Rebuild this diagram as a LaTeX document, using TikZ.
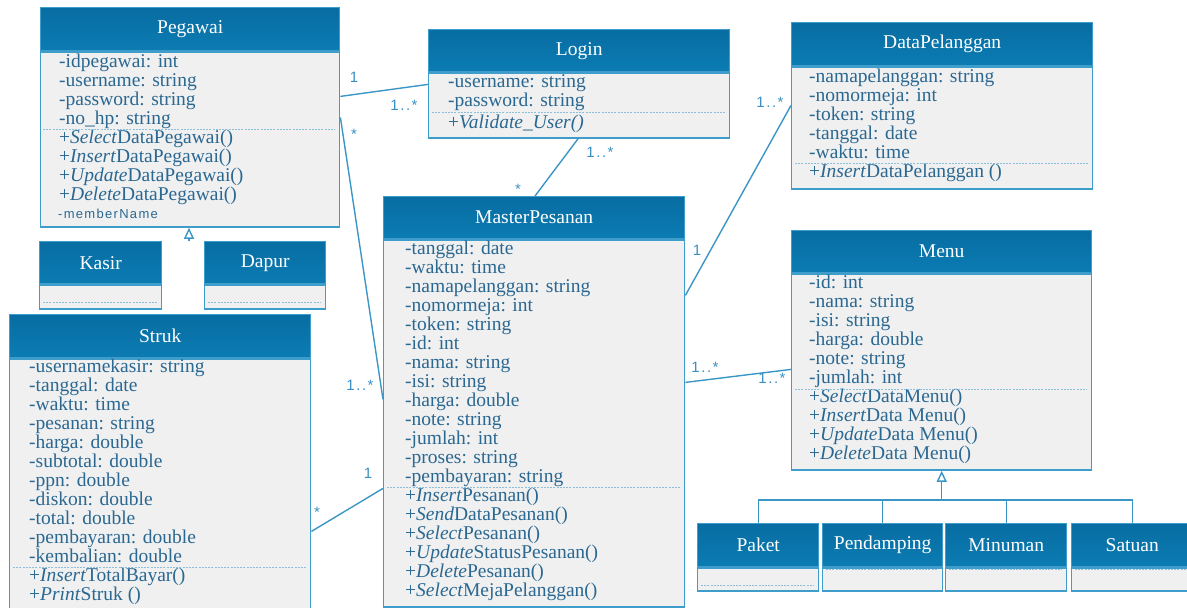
\documentclass[tikz,border=0pt]{standalone}
\usepackage{fontspec}
\setmainfont{Liberation Serif}
\newfontfamily\multfont{Liberation Sans}[LetterSpace=10]
\newfontfamily\tinysans{Liberation Sans}[LetterSpace=10]
\usetikzlibrary{arrows.meta,calc}

\definecolor{hdrtop}{HTML}{086DA2}
\definecolor{hdrbot}{HTML}{0B7CB3}
\definecolor{boxline}{HTML}{3F9DCC}
\definecolor{bodyfill}{HTML}{F0F0F0}
\definecolor{memtext}{HTML}{2A6892}
\definecolor{sepcol}{HTML}{8DBEDB}
\definecolor{conncol}{HTML}{3B96C6}
\definecolor{labcol}{HTML}{3A8FC2}

\tikzset{
  hdr/.style={draw=boxline, line width=1.4pt, top color=hdrtop, bottom color=hdrbot,
    text=white, font=\fontsize{19.5}{19}\selectfont, inner sep=0pt, anchor=north west},
  bodybox/.style={draw=boxline, line width=1.4pt, fill=bodyfill, inner sep=0pt, anchor=north west},
  mem/.style={text=memtext, font=\fontsize{19.5}{19}\selectfont, inner sep=0pt, anchor=base west},
  sep/.style={draw=sepcol, line width=0.8pt, dash pattern=on 2pt off 1.2pt},
  conn/.style={draw=conncol, line width=1.4pt},
  inh/.style={conn, -{Triangle[open, width=10pt, length=11pt, line width=1.4pt]}},
  mult/.style={text=labcol, font=\multfont\fontsize{15}{15}\selectfont, inner sep=0pt},
}

% class box: header node <name>-h and body node <name>
% #1 name, #2 x, #3 y, #4 width, #5 header height, #6 body height, #7 title
\newcommand\umlclass[7]{%
  \node[hdr, minimum width=#4pt, minimum height=#5pt] (#1-h) at (#2,#3) {#7};
  \node[bodybox, minimum width=#4pt, minimum height=#6pt] (#1) at (#1-h.south west) {};
}
% member lines: #1 prefix, #2 x, #3 first baseline, #4 list of lines
\newcommand\members[4]{%
  \foreach \t [count=\i] in {#4}{%
    \node[mem] (#1-m\i) at (#2,{#3+19*(\i-1)}) {\t};}%
}

\begin{document}
\begin{tikzpicture}[x=1pt,y=-1pt]
\useasboundingbox (0,0) rectangle (1187,608);

% ---------- classes ----------
\umlclass{peg}{40}{7}{299}{43}{175}{Pegawai}
\members{peg}{59}{67}{-idpegawai: int,-username: string,-password: string,-no\_hp: string,
  +\textit{Select}DataPegawai(),+\textit{Insert}DataPegawai(),+\textit{Update}DataPegawai(),+\textit{Delete}DataPegawai()}
\node[text=memtext, font=\tinysans\fontsize{13}{13}\selectfont, inner sep=0pt, anchor=base west] (peg-mn) at (58,218) {-memberName};
\draw[sep] (43,129) -- (335,129);

\umlclass{login}{428}{29}{301}{42}{65}{Login}
\members{login}{448}{87}{-username: string,-password: string}
\node[mem] (login-op) at (448,128) {+\textit{Validate\_User()}};
\draw[sep] (432,112) -- (725,112);

\umlclass{dp}{791}{22}{301}{43}{122}{DataPelanggan}
\members{dp}{809}{82}{-namapelanggan: string,-nomormeja: int,-token: string,-tanggal: date,-waktu: time,
  +\textit{Insert}DataPelanggan ()}
\draw[sep] (795,163) -- (1088,163);

\umlclass{mp}{383}{196}{301}{42}{367}{MasterPesanan}
\members{mp}{405}{254}{-tanggal: date,-waktu: time,-namapelanggan: string,-nomormeja: int,-token: string,
  -id: int,-nama: string,-isi: string,-harga: double,-note: string,-jumlah: int,-proses: string,-pembayaran: string,
  +\textit{Insert}Pesanan(),+\textit{Send}DataPesanan(),+\textit{Select}Pesanan(),+\textit{Update}StatusPesanan(),
  +\textit{Delete}Pesanan(),+\textit{Select}MejaPelanggan()}
\draw[sep] (387,487) -- (680,487);

\umlclass{menu}{791}{230}{300}{42}{196}{Menu}
\members{menu}{809}{288}{-id: int,-nama: string,-isi: string,-harga: double,-note: string,-jumlah: int,
  +\textit{Select}DataMenu(),+\textit{Insert}Data Menu(),+\textit{Update}Data Menu(),+\textit{Delete}Data Menu()}
\draw[sep] (795,389) -- (1087,389);

\umlclass{struk}{9}{314}{301}{43}{260}{Struk}
\members{struk}{29}{372}{-usernamekasir: string,-tanggal: date,-waktu: time,-pesanan: string,-harga: double,
  -subtotal: double,-ppn: double,-diskon: double,-total: double,-pembayaran: double,-kembalian: double,
  +\textit{Insert}TotalBayar(),+\textit{Print}Struk ()}
\draw[sep] (13,567) -- (306,567);

% subclasses of Pegawai
\umlclass{kasir}{39}{241}{122}{42}{24}{Kasir}
\draw[sep] (43,302) -- (157,302);
\umlclass{dapur}{204}{241}{121}{42}{24}{Dapur}
\draw[sep] (208,302) -- (321,302);

% subclasses of Menu
\umlclass{paket}{697}{523}{121}{43}{23}{Paket}
\draw[sep] (701,585) -- (814,585);
\umlclass{pend}{822}{523}{120}{43}{23}{Pendamping}
\draw[sep] (826,569) -- (938,569);
\umlclass{minum}{945}{523}{121}{43}{23}{Minuman}
\draw[sep] (949,569) -- (1062,569);
\umlclass{satuan}{1071}{523}{121}{43}{23}{Satuan}
\draw[sep] (1075,569) -- (1188,569);

% ---------- generalisation ----------
\coordinate (pj) at (189,241);
\draw[inh] (pj) -- (peg.south west -| pj);

\coordinate (mj) at (menu.south |- 0,500);
\draw[conn] (paket-h.north) |- (mj);
\draw[conn] (pend-h.north) |- (mj);
\draw[conn] (minum-h.north) |- (mj);
\draw[conn] (satuan-h.north) |- (mj);
\draw[inh] (mj) -- (menu.south);

% ---------- associations ----------
\draw[conn] ([yshift=-45pt]peg.north east) -- ([yshift=-12pt]login.north west);
\draw[conn] ([yshift=-66pt]peg.north east) -- ([yshift=-160pt]mp.north west);
\draw[conn] ([xshift=150pt]login.south west) -- ([xshift=152pt]mp-h.north west);
\draw[conn] ([yshift=-56pt]mp.north east) -- ([yshift=-39pt]dp.north west);
\draw[conn] ([yshift=-143pt]mp.north east) -- ([yshift=-96pt]menu.north west);
\draw[conn] ([yshift=-173pt]struk.north east) -- ([yshift=-249pt]mp.north west);

% multiplicities
\node[mult] (l1) at (354,77) {1};
\node[mult] (l2) at (404,105) {1..*};
\node[mult] (l3) at (354,134) {*};
\node[mult] (l4) at (360,385) {1..*};
\node[mult] (l5) at (600,152) {1..*};
\node[mult] (l6) at (518,189) {*};
\node[mult] (l7) at (770,102) {1..*};
\node[mult] (l8) at (697,250) {1};
\node[mult] (l9) at (705,367) {1..*};
\node[mult] (l10) at (772,378) {1..*};
\node[mult] (l11) at (368,473) {1};
\node[mult] (l12) at (317,512) {*};
\end{tikzpicture}
\end{document}
